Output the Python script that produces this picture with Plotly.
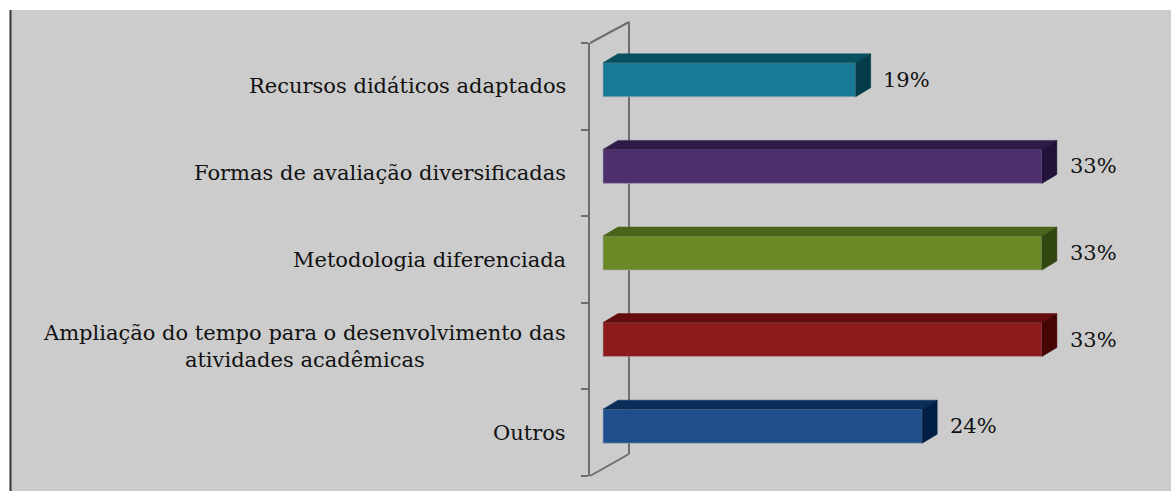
import plotly.graph_objects as go

categories = [
    "Recursos didáticos adaptados",
    "Formas de avaliação diversificadas",
    "Metodologia diferenciada",
    "Ampliação do tempo para o desenvolvimento das<br>atividades acadêmicas",
    "Outros",
]
values = [19, 33, 33, 33, 24]
value_labels = ["19%", "33%", "33%", "33%", "24%"]

front_colors = ["#187A95", "#4E2F6E", "#6A8A28", "#8E1B1B", "#1F4E8C"]
top_colors = ["#07505F", "#2F1B48", "#4A6418", "#640B0B", "#0B2D5A"]
side_colors = ["#033B48", "#221239", "#314610", "#470404", "#011E45"]

# layout geometry (pixels)
W, H = 1171, 491
L, R, T, B = 590, 11, 43, 15
pw = W - L - R
ph = H - T - B
x_range = [-0.977, 41.88]
px_per_x = pw / (x_range[1] - x_range[0])
px_per_y = ph / 5.0

bar_w = 34 / px_per_y
shift = -6.5 / px_per_y          # bars sit a bit above category centre
dx = 15 / px_per_x               # depth offset
dy = -9 / px_per_y

ypos = list(range(len(categories)))

fig = go.Figure()

fig.add_trace(go.Bar(
    orientation="h",
    y=ypos,
    x=values,
    base=0,
    width=bar_w,
    offset=shift - bar_w / 2,
    marker=dict(color=front_colors, line=dict(color="#A9A9B8", width=0.6)),
    hoverinfo="skip",
))

for i, v in enumerate(values):
    yt = ypos[i] + shift - bar_w / 2
    yb = ypos[i] + shift + bar_w / 2
    # top face
    fig.add_trace(go.Scatter(
        x=[0, v, v + dx, dx, 0], y=[yt, yt, yt + dy, yt + dy, yt],
        fill="toself", fillcolor=top_colors[i], mode="lines",
        line=dict(color=top_colors[i], width=0.5), hoverinfo="skip", showlegend=False))
    # side face
    fig.add_trace(go.Scatter(
        x=[v, v + dx, v + dx, v, v], y=[yb, yb + dy, yt + dy, yt, yb],
        fill="toself", fillcolor=side_colors[i], mode="lines",
        line=dict(color=side_colors[i], width=0.5), hoverinfo="skip", showlegend=False))

annotations = []
for i, v in enumerate(values):
    annotations.append(dict(
        x=v + dx + 0.8, y=ypos[i] + shift, xref="x", yref="y",
        text=value_labels[i], showarrow=False, xanchor="left", yanchor="middle",
        font=dict(family="DejaVu Serif", size=21, color="#111111")))
for i, c in enumerate(categories):
    annotations.append(dict(
        x=0, y=ypos[i], xref="paper", yref="y", xshift=-22,
        text=c, showarrow=False, xanchor="right", yanchor="middle", align="center",
        font=dict(family="DejaVu Serif", size=21, color="#111111")))

def px_x(p):
    return (p - L) / pw

def px_y(p):
    return (H - B - p) / ph

shapes = [
    # grey background panel
    dict(type="rect", xref="paper", yref="paper", layer="below",
         x0=px_x(10), x1=px_x(1175), y0=px_y(495), y1=px_y(10),
         fillcolor="#CCCCCC", line=dict(width=0)),
    # dark left border
    dict(type="line", xref="paper", yref="paper",
         x0=px_x(10.5), x1=px_x(10.5), y0=px_y(495), y1=px_y(10),
         line=dict(color="#333333", width=2)),
    # back wall vertical
    dict(type="line", xref="paper", yref="paper",
         x0=px_x(629), x1=px_x(629), y0=px_y(22), y1=px_y(454),
         line=dict(color="#6E6E6E", width=2), layer="below"),
    # top diagonal
    dict(type="line", xref="paper", yref="paper",
         x0=px_x(590), x1=px_x(629), y0=px_y(43), y1=px_y(22),
         line=dict(color="#6E6E6E", width=2)),
    # bottom diagonal
    dict(type="line", xref="paper", yref="paper",
         x0=px_x(590), x1=px_x(629), y0=px_y(476), y1=px_y(454),
         line=dict(color="#6E6E6E", width=2)),
]

fig.update_layout(
    width=W, height=H,
    margin=dict(l=L, r=R, t=T, b=B),
    paper_bgcolor="#FFFFFF",
    plot_bgcolor="rgba(0,0,0,0)",
    showlegend=False,
    xaxis=dict(range=x_range, visible=False, fixedrange=True),
    yaxis=dict(range=[4.5, -0.5], tickmode="array",
               tickvals=[-0.5, 0.5, 1.5, 2.5, 3.5, 4.5],
               showticklabels=False, ticks="outside", ticklen=7, tickwidth=2,
               tickcolor="#6E6E6E", showline=True, linecolor="#6E6E6E", linewidth=2,
               showgrid=False, zeroline=False, fixedrange=True),
    annotations=annotations,
    shapes=shapes,
)

fig.write_html("out.html", config={"displayModeBar": False})
